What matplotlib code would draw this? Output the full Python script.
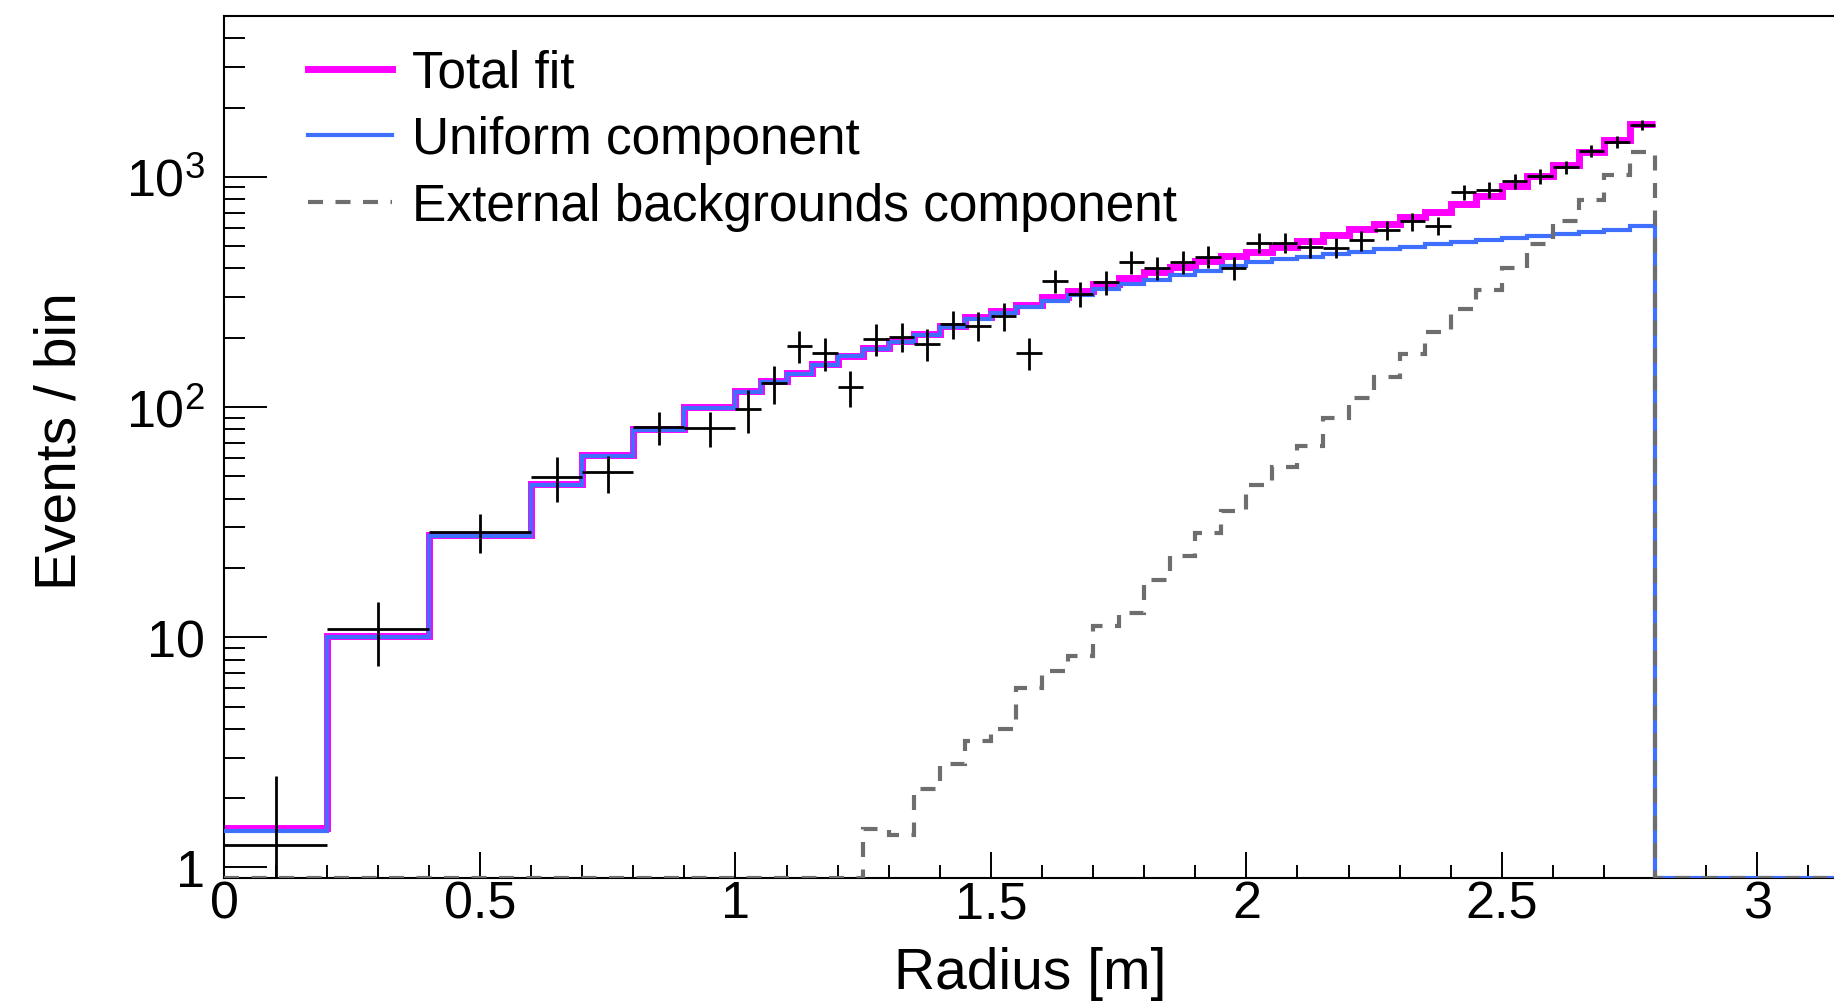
import numpy as np
import matplotlib
matplotlib.use('Agg')
import matplotlib.pyplot as plt
from matplotlib.lines import Line2D
from matplotlib.ticker import MultipleLocator, LogLocator, FixedLocator, FixedFormatter, NullFormatter, FormatStrFormatter

plt.rcParams['font.family'] = ['Liberation Sans', 'DejaVu Sans']
plt.rcParams['mathtext.fontset'] = 'custom'
plt.rcParams['mathtext.rm'] = 'Liberation Sans'
plt.rcParams['mathtext.it'] = 'Liberation Sans:italic'

# bin edges (m)
bin_edges = [0.0, 0.2, 0.4, 0.6, 0.7, 0.8, 0.9, 1.0, 1.05, 1.1, 1.15, 1.2, 1.25,
             1.3, 1.35, 1.4, 1.45, 1.5, 1.55, 1.6, 1.65, 1.7, 1.75, 1.8, 1.85,
             1.9, 1.95, 2.0, 2.05, 2.1, 2.15, 2.2, 2.25, 2.3, 2.35, 2.4, 2.45,
             2.5, 2.55, 2.6, 2.65, 2.7, 2.75, 2.8]

data_counts = [1.25, 10.9, 28.7, 49.5, 52, 82, 81, 98, 127, 185, 172, 122, 198,
               202, 188, 229, 226, 249, 172, 354, 310, 348, 428, 401, 428, 450,
               401, 518, 518, 494, 492, 530, 585, 640, 614, 857, 880, 955, 1007,
               1102, 1301, 1415, 1683]
data_err = [1.24, 3.4, 5.5, 11, 9.5, 13.5, 14, 21, 24, 29, 28, 22, 32, 29, 30, 32,
            33, 34, 27, 40, 38, 42, 49, 46, 48, 50, 46, 52, 52, 50, 50, 53, 55, 58,
            57, 67, 68, 70, 72, 75, 80, 84, 92]

total_fit = [1.48, 10.1, 27.8, 46.5, 62, 80, 100, 117, 130, 140, 154, 167, 181,
             193, 208, 226, 245, 262, 278, 300, 320, 343, 363, 385, 407, 433, 452,
             474, 498, 525, 559, 594, 626, 668, 707, 763, 824, 911, 1007, 1127,
             1280, 1453, 1700]
uniform_comp = [1.44, 10.0, 27.5, 46, 61.5, 79.5, 99.5, 116, 129, 139, 153, 166,
                179, 191, 206, 223, 241, 257, 272, 290, 308, 325, 342, 358, 374,
                390, 408, 426, 438, 450, 462, 474, 486, 497, 509, 520, 532, 543,
                555, 566, 578, 590, 612]
external_comp = [0, 0, 0, 0, 0, 0, 0, 0, 0, 0, 0, 0,
                 1.47, 1.38, 2.19, 2.81, 3.54, 3.98, 6.0, 7.13, 8.27, 11.2, 12.7,
                 17.8, 22.6, 28.5, 35.2, 45.7, 54.7, 67.9, 89.6, 110, 134.6, 170,
                 211, 267, 324, 402, 510, 646, 797, 1020, 1288]

x_max = 3.15
y_lo, y_hi = 0.9, 5000

edges = np.array(bin_edges)
centers = 0.5 * (edges[1:] + edges[:-1])
half_w = 0.5 * (edges[1:] - edges[:-1])
edges_ext = np.append(edges, x_max)

fig = plt.figure(figsize=(18.34, 10.04), dpi=100)
ax = fig.add_axes([0.1224, 0.1245, 0.8776, 0.8586])

c_total = '#ff00ff'
c_unif = '#3f6fff'
c_ext = '#6e6e6e'
ext_dash = (0, (3.6, 3.0))

ax.stairs(total_fit, edges, baseline=None, color=c_total, lw=5, zorder=2)
ax.stairs(np.clip(np.append(uniform_comp, 0), y_lo, None), edges_ext, baseline=None,
          color=c_unif, lw=3, zorder=3)
ax.stairs(np.clip(np.append(external_comp, 0), y_lo, None), edges_ext, baseline=None,
          color=c_ext, lw=3, ls=ext_dash, zorder=4)
ax.errorbar(centers, data_counts, xerr=half_w, yerr=data_err, fmt='none',
            ecolor='black', elinewidth=2, capsize=0, zorder=5)

ax.set_yscale('log')
ax.set_xlim(0, x_max)
ax.set_ylim(y_lo, y_hi)

ax.xaxis.set_major_locator(MultipleLocator(0.5))
ax.xaxis.set_minor_locator(MultipleLocator(0.1))
ax.xaxis.set_major_formatter(FormatStrFormatter('%g'))
ax.yaxis.set_major_locator(FixedLocator([1, 10, 100, 1000]))
ax.yaxis.set_major_formatter(FixedFormatter(['1', '10', r'$10^{2}$', r'$10^{3}$']))
ax.yaxis.set_minor_locator(LogLocator(base=10, subs=np.arange(2, 10), numticks=20))
ax.yaxis.set_minor_formatter(NullFormatter())

ax.tick_params(axis='x', which='major', direction='in', length=19, width=1.4,
               labelsize=37.5, pad=1, top=False)
ax.tick_params(axis='x', which='minor', direction='in', length=9.5, width=1.4, top=False)
ax.tick_params(axis='y', which='major', direction='in', length=31, width=1.4,
               labelsize=37.5, pad=14, right=False)
ax.tick_params(axis='y', which='minor', direction='in', length=15, width=1.4, right=False)

for side in ['left', 'top', 'bottom']:
    ax.spines[side].set_linewidth(1.5)
ax.spines['right'].set_visible(False)

fig.text(61 / 1834, 1 - 441 / 1004, 'Events / bin', rotation=90,
         ha='center', va='center', fontsize=41)
fig.text(1030 / 1834, 1 - 974 / 1004, 'Radius [m]',
         ha='center', va='center', fontsize=41)

handles = [Line2D([], [], color=c_total, lw=5),
           Line2D([], [], color=c_unif, lw=3),
           Line2D([], [], color=c_ext, lw=3, ls=ext_dash)]
labels = ['Total fit', 'Uniform component', 'External backgrounds component']
ax.legend(handles, labels, loc='upper left', bbox_to_anchor=(0.0519, 0.962),
          frameon=False, fontsize=37, handlelength=1.63, handletextpad=0.39,
          labelspacing=0.34, borderpad=0, borderaxespad=0)

fig.savefig('out.png', dpi=100)
